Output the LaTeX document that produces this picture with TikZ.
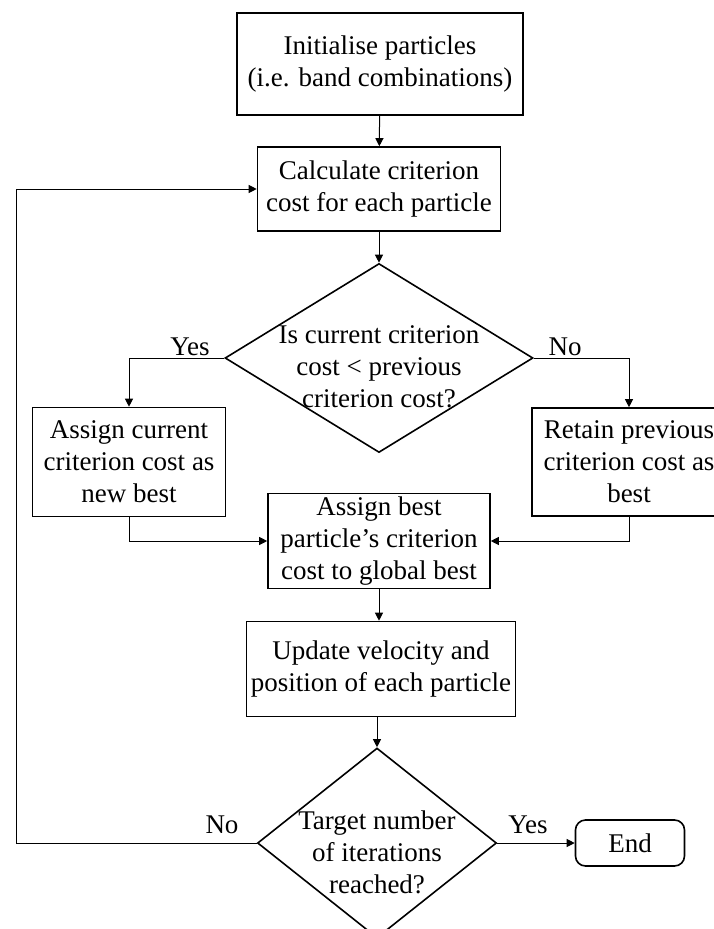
\documentclass[tikz,border=0pt]{standalone}
\usepackage{fontspec}
\setmainfont{Liberation Serif}
\usetikzlibrary{arrows.meta,positioning,shapes.geometric,calc}

\begin{document}
\begin{tikzpicture}[
  x=1pt, y=-1pt,
  font=\fontsize{27}{32}\selectfont,
  >={Triangle[length=8pt,width=8pt]},
  box/.style={draw=black, line width=1.6pt, align=center, inner sep=2pt},
  dec/.style={diamond, draw=black, line width=1.6pt, inner sep=0pt},
  term/.style={box, rounded corners=10pt},
  flow/.style={->, line width=1pt},
  ans/.style={inner sep=0pt, anchor=base},
]
\useasboundingbox (0,0) rectangle (714,929);
\clip (0,0) rectangle (714,929);

% ---------- Main column ----------
\node[box, minimum width=286pt, minimum height=102pt] (init) at (380,64)
  {Initialise particles\\(i.e. band combinations)};
\node[box, minimum width=243pt, minimum height=84pt] (calc) at (379,189)
  {Calculate criterion\\cost for each particle};
\node[dec, minimum width=308pt, minimum height=189pt,
      label={[align=center, yshift=-9pt]center:Is current criterion\\cost < previous\\criterion cost?}] (cmp) at (379,358) {};

% ---------- Branches ----------
\node[box, minimum width=193pt, minimum height=109pt] (newbest) at (129,462)
  {Assign current\\criterion cost as\\new best};
\node[box, minimum width=194pt, minimum height=108pt] (retain) at (629,462)
  {Retain previous\\criterion cost as\\best};

\node[box, minimum width=222pt, minimum height=95pt] (glob) at (379,541)
  {Assign best\\particle's criterion\\cost to global best};
\node[box, minimum width=269pt, minimum height=95pt] (upd) at (381,669)
  {Update velocity and\\position of each particle};
\node[dec, minimum width=239pt, minimum height=190pt,
      label={[align=center, yshift=-9pt]center:Target number\\of iterations\\reached?}] (tgt) at (377,843) {};
\node[term, minimum width=109pt, minimum height=46pt] (end) at (630,843) {End};

% answer labels
\node[ans] (yes1) at (190,355) {Yes};
\node[ans] (no1)  at (565,355) {No};
\node[ans] (no2)  at (222,833) {No};
\node[ans] (yes2) at (528,833) {Yes};

\coordinate (loop) at (16,843);

% ---------- Connectors ----------
\draw[flow] (init) -- (calc);
\draw[flow] (calc) -- (cmp);
\draw[flow] (cmp.west) -| (newbest.north);
\draw[flow] (cmp.east) -| (retain.north);
\draw[flow] (newbest.south) |- (glob.west);
\draw[flow] (retain.south) |- (glob.east);
\draw[flow] (glob) -- (glob|-upd.north);
\draw[flow] (upd.south-|tgt) -- (tgt);
\draw[flow] (tgt.east) -- (end.west);
\draw[flow] (tgt.west) -- (loop) |- (calc.west);

\end{tikzpicture}
\end{document}
